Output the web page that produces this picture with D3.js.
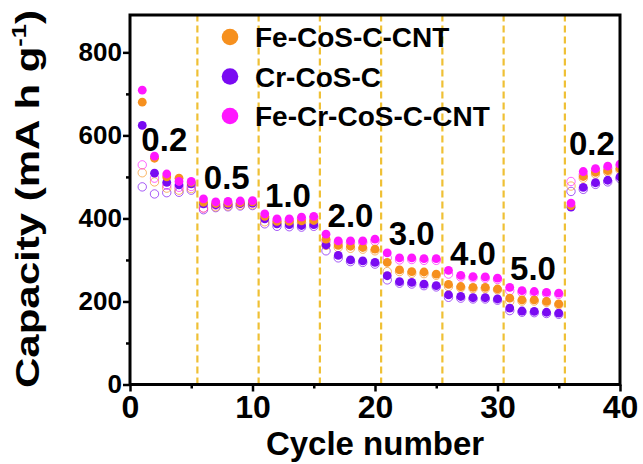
<!DOCTYPE html>
<html><head><meta charset="utf-8">
<script src="https://cdn.jsdelivr.net/npm/d3@7"></script>
<style>
html,body{margin:0;padding:0;background:#fff;}
svg text{font-family:"Liberation Sans",Arial,Helvetica,sans-serif;font-weight:bold;fill:#000;}
</style></head>
<body><svg id="c" width="643" height="464"></svg>
<script>
const cycles = d3.range(1, 41);
const seriesNames = ["Fe-CoS-C-CNT", "Cr-CoS-C", "Fe-Cr-CoS-C-CNT"];
const feCoS = [680,545,500,497,487, 439,436,437,438,440, 405,393,393,394,395, 350,335,333,330,326,
               294,276,272,271,266, 241,236,234,234,230, 208,204,204,200,194, 431,501,511,515,520];
const crCoS = [624,509,487,481,483, 435,433,434,436,437, 399,387,385,383,385, 336,311,300,298,294,
               262,248,246,242,238, 216,212,209,209,206, 184,177,176,174,172, 427,475,486,492,500];
const feCrCoS = [709,550,507,489,489, 447,440,441,442,443, 411,399,399,403,405, 362,346,346,346,350,
                 317,305,305,303,303, 275,263,260,259,256, 234,226,224,222,220, 437,513,520,526,531];
// charge (hollow) capacities
const feCoSCh = [510,488,473,468,472, 425,428,430,432,433, 392,388,389,390,391, 335,330,328,326,322,
                 272,272,268,267,263, 236,233,231,231,228, 200,201,201,198,192, 478,497,507,512,517];
const crCoSCh = [476,459,462,463,468, 421,426,428,430,431, 387,381,380,379,381, 322,305,296,294,290,
                 252,244,242,238,235, 210,208,206,206,203, 178,174,173,171,169, 465,470,482,488,496];
const feCrCoSCh = [529,497,480,475,477, 425,432,434,436,437, 402,395,396,399,401, 345,341,342,342,345,
                   305,300,301,299,299, 266,259,257,256,253, 226,222,220,219,217, 489,505,515,521,527];
const rateLabels = ["0.2","0.5","1.0","2.0","3.0","4.0","5.0","0.2"];
const xTicks = [0,10,20,30,40];
const xMinor = [5,15,25,35];
const yTicks = [0,200,400,600,800];
const yMinor = [100,300,500,700];
const dividers = [5.5,10.5,15.5,20.5,25.5,30.5,35.5];
const colors = ["#f6901e", "#7a0af2", "#ff17ff"];

const svg = d3.select("#c");
const L = 130, R = 620, T = 15, B = 384.5;
const x = d3.scaleLinear().domain([0, 40]).range([L, R]);
const y = d3.scaleLinear().domain([0, 890]).range([B, T]);

svg.append("defs").append("clipPath").attr("id","clip")
  .append("rect").attr("x", L).attr("y", T).attr("width", R - L).attr("height", B - T);

// dividers
svg.append("g").selectAll("line").data(dividers).join("line")
  .attr("x1", d => x(d)).attr("x2", d => x(d)).attr("y1", B).attr("y2", T)
  .attr("stroke", "#efc035").attr("stroke-width", 2.2).attr("stroke-dasharray", "7,4");

const plot = svg.append("g").attr("clip-path", "url(#clip)");
const charge = [feCoSCh, crCoSCh, feCrCoSCh];
const disch = [feCoS, crCoS, feCrCoS];
// hollow circles first
[1, 0, 2].forEach(i => {
  plot.append("g").selectAll("circle").data(cycles).join("circle")
    .attr("cx", d => x(d)).attr("cy", (d, k) => y(charge[i][k])).attr("r", 4.2)
    .attr("fill", "none").attr("stroke", colors[i]).attr("stroke-width", 0.9).attr("stroke-opacity", 0.75);
});
[1, 0, 2].forEach(i => {
  plot.append("g").selectAll("circle").data(cycles).join("circle")
    .attr("cx", d => x(d)).attr("cy", (d, k) => y(disch[i][k])).attr("r", 4.4)
    .attr("fill", colors[i]);
});

// rate labels
const labelPos = [[2.8,562],[7.9,470],[12.9,428],[18,380],[23,336],[28,288],[32.9,252],[37.7,553]];
svg.append("g").selectAll("text").data(rateLabels).join("text")
  .attr("x", (d, i) => x(labelPos[i][0])).attr("y", (d, i) => y(labelPos[i][1]))
  .attr("text-anchor", "middle").attr("font-size", 33).text(d => d);

// axes
const xAxis = svg.append("g").attr("transform", `translate(0,${B})`)
  .call(d3.axisBottom(x).tickValues(xTicks).tickSize(7).tickSizeOuter(0).tickPadding(3));
const xAxisMinor = svg.append("g").attr("transform", `translate(0,${B})`)
  .call(d3.axisBottom(x).tickValues(xMinor).tickSize(4).tickSizeOuter(0).tickFormat(""));
const yAxis = svg.append("g").attr("transform", `translate(${L},0)`)
  .call(d3.axisLeft(y).tickValues(yTicks).tickSize(7).tickSizeOuter(0).tickPadding(1));
const yAxisMinor = svg.append("g").attr("transform", `translate(${L},0)`)
  .call(d3.axisLeft(y).tickValues(yMinor).tickSize(4).tickSizeOuter(0).tickFormat(""));
[xAxis, xAxisMinor, yAxis, yAxisMinor].forEach(g => {
  g.select(".domain").remove();
  g.selectAll(".tick line").attr("stroke", "#000").attr("stroke-width", 2.5);
});
xAxis.selectAll(".tick text").attr("font-size", 32).attr("font-family", null).attr("dy", "0.73em");
yAxis.selectAll(".tick text").attr("font-size", 26).attr("font-family", null);

// frame
svg.append("rect").attr("x", L).attr("y", T).attr("width", R - L).attr("height", B - T)
  .attr("fill", "none").attr("stroke", "#000").attr("stroke-width", 3);

// axis titles
svg.append("text").attr("x", (L + R) / 2).attr("y", 455).attr("text-anchor", "middle")
  .attr("font-size", 33).text("Cycle number");
const yt = svg.append("text").attr("transform", "translate(39,199) rotate(-90)")
  .attr("text-anchor", "middle").attr("font-size", 33)
  .attr("textLength", 378).attr("lengthAdjust", "spacingAndGlyphs");
yt.append("tspan").text("Capacity (mA h g");
yt.append("tspan").attr("font-size", 20).attr("dy", -13).text("-1");
yt.append("tspan").attr("dy", 13).text(")");

// legend
const leg = svg.append("g").selectAll("g").data(seriesNames).join("g")
  .attr("transform", (d, i) => `translate(230,${37 + i * 39.5})`);
leg.append("circle").attr("r", 8.3).attr("fill", (d, i) => colors[i]);
leg.append("text").attr("x", 25).attr("y", 10).attr("font-size", 28).text(d => d);
</script></body></html>
